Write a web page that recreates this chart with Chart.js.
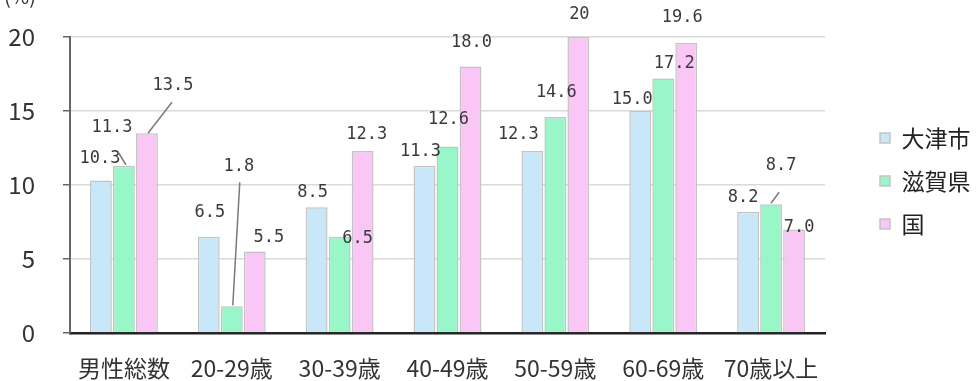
<!DOCTYPE html>
<html>
<head>
<meta charset="utf-8">
<script src="https://cdn.jsdelivr.net/npm/chart.js@4"></script>
<style>
  html, body { margin: 0; padding: 0; background: #fff; }
  #wrap { position: relative; width: 979px; height: 381px; }
</style>
</head>
<body>
<div id="wrap"><canvas id="chart"></canvas></div>
<script>
// data
const categories = ["男性総数", "20-29歳", "30-39歳", "40-49歳", "50-59歳", "60-69歳", "70歳以上"];
const seriesNames = ["大津市", "滋賀県", "国"];
const otsuValues = [10.3, 6.5, 8.5, 11.3, 12.3, 15.0, 8.2];
const shigaValues = [11.3, 1.8, 6.5, 12.6, 14.6, 17.2, 8.7];
const nationValues = [13.5, 5.5, 12.3, 18.0, 20, 19.6, 7.0];
const yTicks = [0, 5, 10, 15, 20];

const colors = ["#c8e7f8", "#98f6c8", "#f9c6f6"];

// label placement relative to the top of each bar (dx, dy), plus optional leader line
const labelOffsets = [
  [[-1, -22], [1, -24], [-4, -15], [-4, -14], [-14, -16], [-8, -11], [-5, -14]],
  [[-12, -38], [7, -140], [18, 2], [1, -27], [1, -24], [11, -15], [10, -39]],
  [[26, -48], [14, -14], [4, -16], [1, -24], [1, -22], [-4, -25], [5, -2]]
];
const leaders = {
  "1-0": [[-6, -14], [2, -1]],
  "2-0": [[25, -31], [1, 0]],
  "1-1": [[8, -124], [1, -1]],
  "1-6": [[8, -12], [0, -1]]
};

const fmt = v => v === 20 ? "20" : v.toFixed(1);

const barLabels = {
  id: "barLabels",
  afterDatasetsDraw(chart) {
    const ctx = chart.ctx;
    ctx.save();
    chart.data.datasets.forEach((ds, i) => {
      const meta = chart.getDatasetMeta(i);
      meta.data.forEach((bar, j) => {
        const lead = leaders[i + "-" + j];
        if (lead) {
          ctx.strokeStyle = "#7a7a7a";
          ctx.lineWidth = 1.5;
          ctx.beginPath();
          ctx.moveTo(bar.x + lead[0][0], bar.y + lead[0][1]);
          ctx.lineTo(bar.x + lead[1][0], bar.y + lead[1][1]);
          ctx.stroke();
        }
        const off = labelOffsets[i][j];
        ctx.font = "17px 'DejaVu Sans Mono'";
        ctx.fillStyle = "#3a3a3a";
        ctx.textAlign = "center";
        ctx.textBaseline = "middle";
        ctx.fillText(fmt(ds.data[j]), bar.x + off[0], bar.y + off[1]);
      });
    });
    // unit, cut off at the top edge
    ctx.font = "20px 'Noto Sans CJK JP'";
    ctx.fillStyle = "#333";
    ctx.textAlign = "left";
    ctx.textBaseline = "bottom";
    ctx.fillText("(%)", 4, 6);
    ctx.restore();
  }
};

const legendPlace = {
  id: "legendPlace",
  beforeInit(chart) {
    const origFit = chart.legend.fit;
    chart.legend.fit = function () {
      origFit.call(this);
      this.width = 154;
    };
  },
  afterLayout(chart) {
    chart.legend.left = 860;
    chart.legend.right = 979;
    chart.legend.top -= 28;
    chart.legend.bottom -= 28;
  }
};

new Chart(document.getElementById("chart"), {
  type: "bar",
  data: {
    labels: categories,
    datasets: [otsuValues, shigaValues, nationValues].map((vals, i) => ({
      label: seriesNames[i],
      data: vals,
      backgroundColor: colors[i],
      borderColor: "#c4c4c4",
      borderWidth: 1.5,
      categoryPercentage: 0.64,
      barPercentage: 0.95
    }))
  },
  options: {
    responsive: true,
    maintainAspectRatio: false,
    animation: false,
    layout: { padding: { top: 37, left: 0, right: 0, bottom: 0 } },
    plugins: {
      legend: {
        position: "right",
        labels: {
          boxWidth: 10,
          boxHeight: 10,
          padding: 20,
          color: "#222",
          font: { family: "'Noto Sans CJK JP'", size: 23 }
        }
      },
      tooltip: { enabled: false }
    },
    scales: {
      x: {
        grid: { display: false, drawTicks: false },
        border: { color: "#222", width: 2.5 },
        ticks: {
          color: "#333",
          padding: 21,
          maxRotation: 0,
          font: { family: "'Noto Sans CJK JP'", size: 23 }
        },
        afterFit(scale) { scale.height = 48; }
      },
      y: {
        min: 0,
        max: 20,
        afterBuildTicks(scale) { scale.ticks = yTicks.map(v => ({ value: v })); },
        grid: { color: "#d9d9d9", lineWidth: 1.5, tickColor: "#666", tickLength: 7 },
        border: { color: "#666", width: 2 },
        ticks: {
          color: "#333",
          padding: 28,
          font: { family: "'Noto Sans CJK JP'", size: 24 }
        },
        afterFit(scale) {
          scale.width = 70;
          scale.paddingTop = 0;
          scale.paddingBottom = 0;
        }
      }
    }
  },
  plugins: [barLabels, legendPlace]
});
</script>
</body>
</html>
